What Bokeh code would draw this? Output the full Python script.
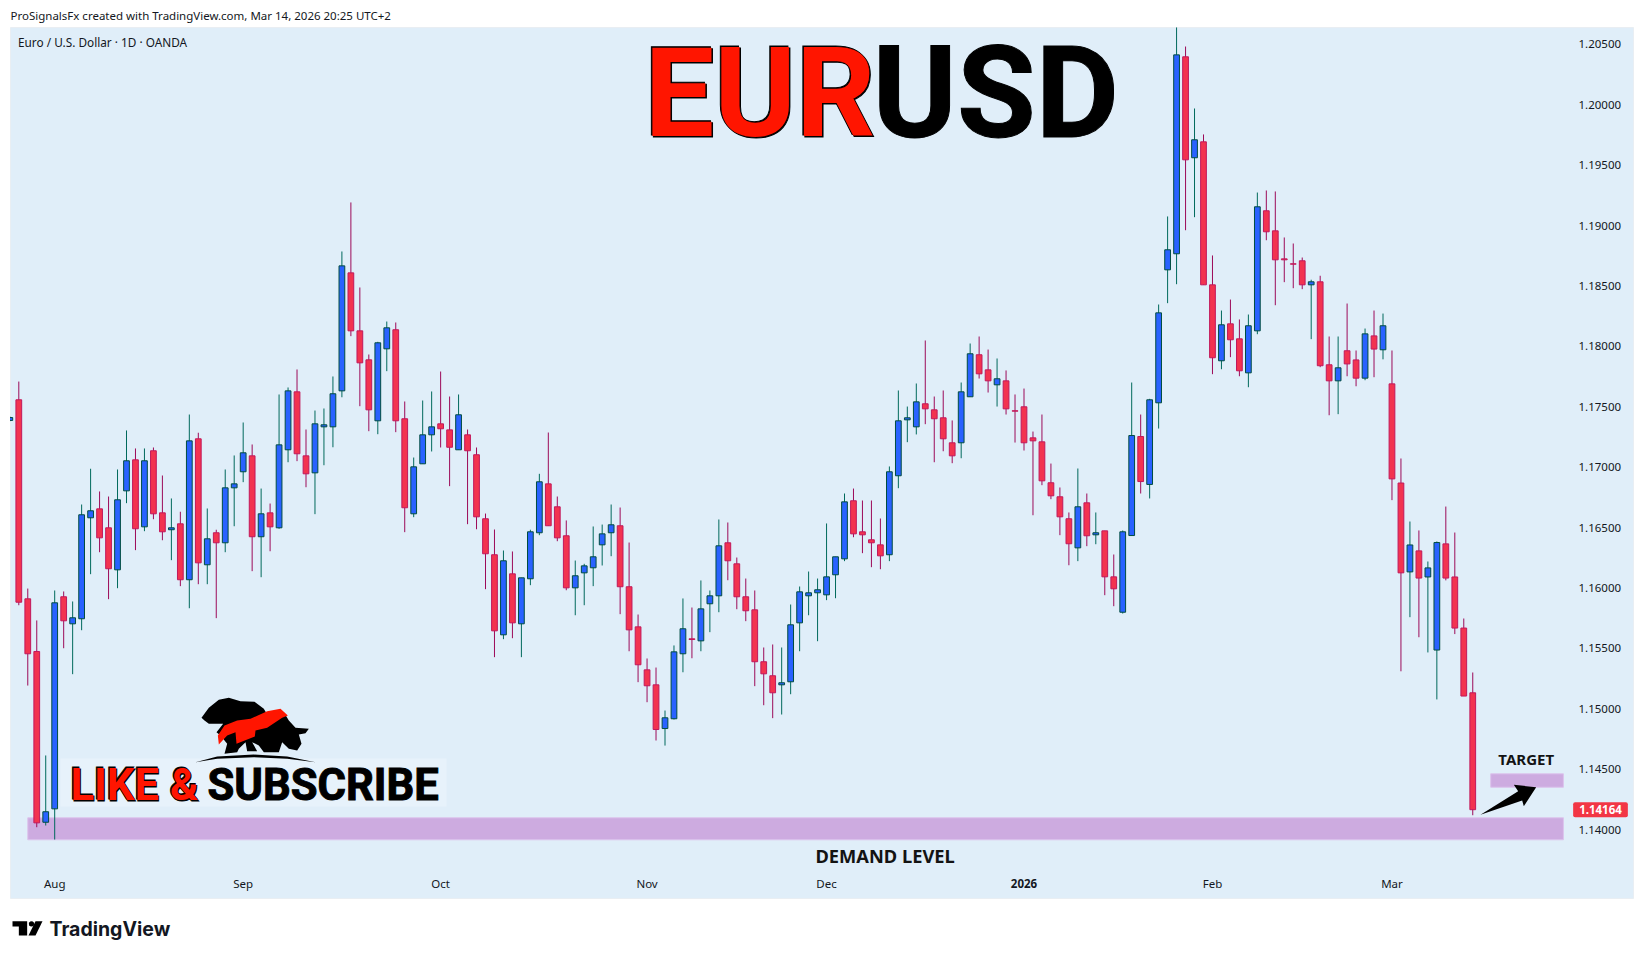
import math
import numpy as np
from bokeh.plotting import figure
from bokeh.models import ColumnDataSource, Range1d, FixedTicker, NumeralTickFormatter, Label
from bokeh.embed import file_html
from bokeh.resources import INLINE

# EURUSD daily candles, Jul 31 2025 .. Mar 13 2026
opens = [1.17387,1.17558,1.15910,1.15474,1.14060,1.14171,1.15927,1.15703,1.15745,1.16581,
 1.16655,1.16498,1.16150,1.16804,1.17061,1.16506,1.17136,1.16622,1.16482,1.16531,
 1.16068,1.17235,1.16192,1.16457,1.16374,1.16829,1.16962,1.17094,1.16424,1.16622,
 1.16498,1.17144,1.17624,1.17094,1.16953,1.17334,1.17334,1.17632,1.18609,1.18129,
 1.17889,1.17384,1.17980,1.18138,1.17401,1.16614,1.17028,1.17268,1.17359,1.17309,
 1.17144,1.17268,1.17103,1.16573,1.16275,1.15612,1.16117,1.15703,1.16076,1.16457,
 1.16862,1.16672,1.16432,1.16001,1.16125,1.16167,1.16357,1.16457,1.16515,1.16010,
 1.15678,1.15322,1.15198,1.14836,1.14917,1.15455,1.15579,1.15562,1.15869,1.15935,
 1.16374,1.16200,1.15927,1.15819,1.15389,1.15273,1.15198,1.15223,1.15711,1.15935,
 1.15960,1.15943,1.16109,1.16241,1.16722,1.16465,1.16399,1.16357,1.16275,1.16929,
 1.17392,1.17334,1.17525,1.17475,1.17409,1.17202,1.17202,1.17583,1.17931,1.17806,
 1.17682,1.17715,1.17467,1.17500,1.17243,1.17210,1.16871,1.16755,1.16573,1.16332,
 1.16705,1.16440,1.16473,1.16092,1.15799,1.16434,1.17254,1.16857,1.17533,1.18634,
 1.18767,1.20398,1.19562,1.19694,1.18510,1.17881,1.18187,1.18063,1.17781,1.18129,
 1.19123,1.18957,1.18725,1.18684,1.18709,1.18510,1.18535,1.17848,1.17715,1.17964,
 1.17888,1.17737,1.18087,1.17972,1.17690,1.16869,1.16133,1.16307,1.16091,1.15486,
 1.16365,1.16091,1.15668,1.15132]
closes = [1.17411,1.15882,1.15455,1.14055,1.14147,1.15877,1.15728,1.15753,1.16606,1.16639,
 1.16415,1.16159,1.16730,1.17053,1.16490,1.17053,1.16614,1.16465,1.16498,1.16068,
 1.17218,1.16208,1.16407,1.16374,1.16829,1.16862,1.17119,1.16424,1.16614,1.16506,
 1.17185,1.17632,1.17111,1.16945,1.17359,1.17351,1.17608,1.18667,1.18129,1.17864,
 1.17475,1.18030,1.18154,1.17384,1.16664,1.17003,1.17268,1.17334,1.17318,1.17165,
 1.17434,1.17136,1.16589,1.16283,1.15645,1.16225,1.15711,1.16084,1.16465,1.16879,
 1.16515,1.16415,1.16001,1.16101,1.16183,1.16258,1.16448,1.16523,1.16010,1.15653,
 1.15364,1.15190,1.14828,1.14925,1.15471,1.15662,1.15573,1.15827,1.15935,1.16349,
 1.16225,1.15927,1.15811,1.15389,1.15289,1.15132,1.15215,1.15695,1.15968,1.15960,
 1.15985,1.16092,1.16258,1.16713,1.16448,1.16440,1.16374,1.16266,1.16962,1.17384,
 1.17409,1.17541,1.17483,1.17401,1.17235,1.17094,1.17624,1.17939,1.17773,1.17715,
 1.17732,1.17483,1.17464,1.17202,1.17218,1.16887,1.16763,1.16589,1.16366,1.16672,
 1.16432,1.16457,1.16092,1.15993,1.16465,1.17262,1.16881,1.17558,1.18278,1.18800,
 1.20414,1.19545,1.19711,1.18510,1.17906,1.18179,1.18055,1.17798,1.18171,1.19156,
 1.18949,1.18717,1.18717,1.18681,1.18510,1.18535,1.17840,1.17715,1.17823,1.17855,
 1.17737,1.18104,1.17978,1.18171,1.16903,1.16125,1.16356,1.16082,1.16166,1.16376,
 1.16082,1.15668,1.15105,1.14164]
highs = [1.17420,1.17709,1.15995,1.15731,1.14613,1.15979,1.15971,1.15888,1.16691,1.16987,
 1.16799,1.16757,1.16981,1.17304,1.17155,1.17155,1.17163,1.16931,1.16741,1.16631,
 1.17436,1.17285,1.16658,1.16482,1.16981,1.17097,1.17370,1.17188,1.16823,1.16699,
 1.17602,1.17660,1.17809,1.17312,1.17469,1.17486,1.17751,1.18786,1.19192,1.18488,
 1.17933,1.18038,1.18206,1.18198,1.17544,1.17080,1.17552,1.17627,1.17792,1.17585,
 1.17602,1.17312,1.17163,1.16616,1.16484,1.16310,1.16302,1.16084,1.16482,1.16945,
 1.17287,1.16757,1.16559,1.16227,1.16200,1.16509,1.16525,1.16691,1.16666,1.16376,
 1.15780,1.15416,1.15341,1.14985,1.15524,1.15913,1.15838,1.16062,1.15979,1.16567,
 1.16542,1.16252,1.16078,1.15979,1.15507,1.15532,1.15507,1.15863,1.16012,1.16136,
 1.16078,1.16534,1.16258,1.16782,1.16823,1.16724,1.16724,1.16575,1.17006,1.17635,
 1.17502,1.17693,1.18049,1.17585,1.17635,1.17387,1.17701,1.18024,1.18082,1.17974,
 1.17900,1.17801,1.17602,1.17651,1.17295,1.17436,1.17030,1.16832,1.16625,1.16989,
 1.16782,1.16625,1.16473,1.16277,1.16476,1.17701,1.17436,1.17566,1.18347,1.19076,
 1.20641,1.20483,1.19970,1.19755,1.18753,1.18297,1.18388,1.18223,1.18264,1.19274,
 1.19291,1.19283,1.18902,1.18852,1.18736,1.18552,1.18585,1.18082,1.18082,1.18355,
 1.17966,1.18148,1.18297,1.18272,1.17966,1.17072,1.16550,1.16476,1.16219,1.16385,
 1.16674,1.16459,1.15747,1.15300]
lows = [1.17380,1.15857,1.15192,1.14019,1.14033,1.13917,1.15501,1.15286,1.15650,1.16114,
 1.16296,1.15907,1.15998,1.16702,1.16313,1.16470,1.16569,1.16395,1.16230,1.16015,
 1.15832,1.16031,1.16031,1.15750,1.16296,1.16511,1.16876,1.16139,1.16089,1.16304,
 1.16490,1.17041,1.17050,1.16834,1.16611,1.17016,1.17165,1.17579,1.18085,1.17505,
 1.17298,1.17273,1.17795,1.17290,1.16462,1.16586,1.17028,1.17130,1.17163,1.16843,
 1.17144,1.16528,1.16486,1.15990,1.15427,1.15576,1.15584,1.15427,1.16023,1.16437,
 1.16515,1.16387,1.15981,1.15774,1.15857,1.16015,1.16186,1.16263,1.15783,1.15476,
 1.15220,1.15054,1.14737,1.14695,1.14911,1.15302,1.15418,1.15476,1.15634,1.15799,
 1.16064,1.15824,1.15725,1.15187,1.15029,1.14922,1.14952,1.15120,1.15476,1.15774,
 1.15559,1.15899,1.15915,1.16222,1.16420,1.16288,1.16172,1.16155,1.16222,1.16826,
 1.17207,1.17271,1.17356,1.17041,1.17132,1.17033,1.17074,1.17583,1.17734,1.17618,
 1.17502,1.17436,1.17204,1.17138,1.16602,1.16851,1.16735,1.16437,1.16188,1.16222,
 1.16346,1.16362,1.15940,1.15849,1.15788,1.16434,1.16782,1.16741,1.17320,1.18358,
 1.18515,1.18962,1.19070,1.18510,1.17770,1.17811,1.17911,1.17753,1.17662,1.18101,
 1.18879,1.18341,1.18532,1.18482,1.18474,1.18060,1.17828,1.17430,1.17439,1.17753,
 1.17670,1.17720,1.17745,1.17893,1.16727,1.15310,1.15758,1.15592,1.15466,1.15077,
 1.16063,1.15618,1.15105,1.14118]

# bar index of each candle runs from -1
first_bar = -1
price_ticks = [1.14,1.145,1.15,1.155,1.16,1.165,1.17,1.175,1.18,1.185,1.19,1.195,1.20,1.205]
month_bars = [4,25,47,70,90,133,153]
month_labels = ["Aug","Sep","Oct","Nov","Dec","Feb","Mar"]
year_bar = 112
year_label = "2026"
last_price = 1.14164
demand_zone = (1.13915,1.14097, 1, 172.1)
target_zone = (1.14350,1.14461, 164, 172.1)

BG = "#e0eef9"
INK = "#131722"
UI = "Noto Sans"
W, H = 1643, 958

def X(px): return (px-18.3)/8.975
def Y(py): return 1.14+(829-py)*8.28e-5

p = figure(width=W, height=H, output_backend="svg", toolbar_location=None,
           x_range=Range1d(X(0),X(W)), y_range=Range1d(Y(H),Y(0)),
           y_axis_location="right", min_border=0, min_border_left=0, min_border_right=0,
           min_border_top=0, min_border_bottom=0)
p.grid.visible = False
p.background_fill_color = "white"
p.border_fill_color = "white"
p.outline_line_color = None

ya = p.yaxis[0]
ya.ticker = FixedTicker(ticks=price_ticks)
ya.formatter = NumeralTickFormatter(format="0.00000")
ya.axis_line_color = None
ya.major_tick_line_color = None
ya.minor_tick_line_color = None
ya.major_label_standoff = -71
ya.major_label_text_font = UI
ya.major_label_text_font_size = "11.5px"
ya.major_label_text_color = INK

xa = p.xaxis[0]
xa.ticker = FixedTicker(ticks=month_bars)
xa.major_label_overrides = dict(zip(month_bars, month_labels))
xa.axis_line_color = None
xa.major_tick_line_color = None
xa.minor_tick_line_color = None
xa.major_label_standoff = -89
xa.major_label_text_font = UI
xa.major_label_text_font_size = "11.5px"
xa.major_label_text_color = INK

# chart panel
p.quad(left=[X(10)], right=[X(1633)], bottom=[Y(898)], top=[Y(27)], fill_color=BG, line_color="#e9eef3", line_width=1)

# zones
p.quad(left=[demand_zone[2]], right=[demand_zone[3]], bottom=[demand_zone[0]], top=[demand_zone[1]],
       fill_color="#cdabe0", line_color="#dcc3ec", line_width=1)
p.quad(left=[target_zone[2]], right=[target_zone[3]], bottom=[target_zone[0]], top=[target_zone[1]],
       fill_color="#cdabe0", line_color="#dcc3ec", line_width=1)

# soft glow behind logo text
p.quad(left=[X(60)], right=[X(446)], bottom=[Y(806)], top=[Y(758)], fill_color="#e7f2fb", line_color=None)

# candles
o = np.array(opens); c = np.array(closes); h = np.array(highs); l = np.array(lows)
bars = np.arange(first_bar, first_bar+len(o))
up = c >= o
src = ColumnDataSource(dict(
    x=bars, h=h, l=l, top=np.maximum(o,c), bottom=np.minimum(o,c),
    wick=["#00695c" if u else "#9c0a59" for u in up],
    fill=["#2962ff" if u else "#f23350" for u in up],
    edge=["#004d40" if u else "#c2185b" for u in up]))
p.segment(x0="x", x1="x", y0="h", y1="l", line_color="wick", line_width=1, source=src)
p.vbar(x="x", width=0.64, top="top", bottom="bottom", fill_color="fill", line_color="edge", line_width=1, source=src)

# the first candle is cut by the panel edge
p.quad(left=[X(0)], right=[X(9.5)], bottom=[Y(H)], top=[Y(0)], fill_color="white", line_color=None)

def poly(points, ox, oy, scale=3.0, color="black"):
    p.patch([X(ox+a/scale) for a,b in points], [Y(oy+b/scale) for a,b in points],
            fill_color=color, line_color=None)

# bear and bull emblem
beast = [(603,232),(625,202),(655,178),(685,172),(720,182),(762,184),(790,205),(800,222),(850,215),(865,240),
         (885,262),(925,265),(915,278),(895,282),(903,310),(890,330),(865,325),(845,305),(835,335),(790,335),
         (775,315),(755,305),(770,332),(740,332),(735,305),(715,325),(710,335),(672,340),(680,310),(660,285),
         (648,275),(668,250),(640,250),(625,250),(612,240)]
ground = [(585,365),(650,348),(760,342),(860,348),(945,365),(860,355),(760,350),(650,355)]
bolt = [(655,312),(652,285),(672,255),(710,240),(750,235),(800,212),(840,205),(862,225),(845,232),(800,262),
        (765,270),(763,288),(708,310),(705,275),(680,285)]
poly(beast,0,640)
poly(ground,0,640)
poly(bolt,0,640,color="#ff1500")

# target arrow
poly([(180,463),(293,392),(280,373),(347,380),(310,437),(305,420)],1420,660)

def lab(text, px, py, size, color=INK, font=UI, style="normal", align="left", base="middle", **kw):
    p.add_layout(Label(x=X(px), y=Y(py), text=text, text_font=font, text_font_size=f"{size}px", text_color=color,
               text_font_style=style, text_align=align, text_baseline=base, **kw))

lab("ProSignalsFx created with TradingView.com, Mar 14, 2026 20:25 UTC+2", 10, 14.5, 11.5)
lab("Euro / U.S. Dollar \u00b7 1D \u00b7 OANDA", 17.5, 41.7, 11.8)
lab(year_label, 18.3+8.975*year_bar, 883, 11.5, style="bold", align="center")

TITLE = "Roboto"
# black copies make the outline round the red letters
for d in (-1, 1):
    lab("EUR", 644+d, 92.5+d, 124, color="black", font=TITLE, style="bold", text_outline_color="black")
lab("EUR", 644, 92.5, 124, color="#ff1500", font=TITLE, style="bold")
lab("USD", 872, 92, 128, color="black", font=TITLE, style="bold", text_outline_color="black")
for d in (-0.7, 0.7):
    lab("LIKE &", 70+d, 785+d, 43.5, color="black", font=TITLE, style="bold", text_outline_color="black")
lab("LIKE &", 70, 785, 43.5, color="#ff1500", font=TITLE, style="bold")
lab("SUBSCRIBE", 207, 785, 43.5, color="black", font=TITLE, style="bold", text_outline_color="black")

lab("DEMAND LEVEL", 884.6, 855, 18.3, style="bold", align="center", color="#131313")
lab("TARGET", 1525.7, 758.5, 15, style="bold", align="center", color="#131313")

lab(f"{last_price:.5f}", 1600, 809.3, 11.5, color="white", style="bold", align="center",
    background_fill_color="#f23645", padding=(6,3), border_radius=2)

# footer logo
poly([(36,182),(80,182),(80,225),(55,225),(55,198),(36,198)],0,860)
dot = [(93+8*math.cos(t/12*2*math.pi), 190+8*math.sin(t/12*2*math.pi)) for t in range(12)]
poly(dot,0,860)
poly([(105,182),(126,182),(105,225),(84,225)],0,860)
lab("TradingView", 49, 928, 19.5, font="Inter", style="bold")

open("out.html","w").write(file_html(p, INLINE))
